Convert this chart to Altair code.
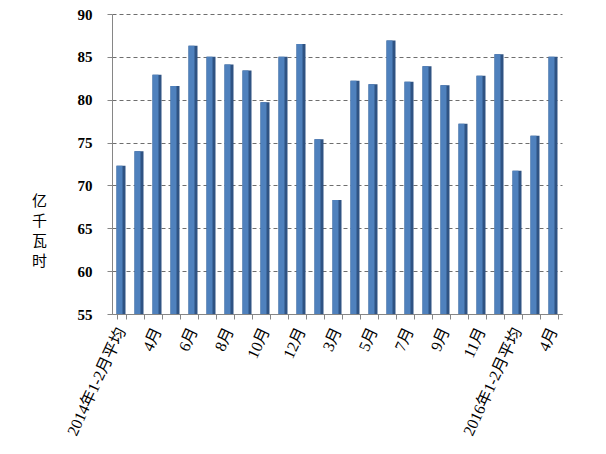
import json
import altair as alt
import pandas as pd

labels = ["2014年1-2月平均", "3月", "4月", "5月", "6月", "7月", "8月", "9月", "10月", "11月", "12月",
          "2015年1-2月平均", "3月", "4月", "5月", "6月", "7月", "8月", "9月", "10月", "11月", "12月",
          "2016年1-2月平均", "3月", "4月"]
values = [72.3, 74.0, 82.9, 81.6, 86.3, 85.0, 84.1, 83.4, 79.7, 85.0, 86.5,
          75.4, 68.3, 82.2, 81.8, 86.9, 82.1, 83.9, 81.7, 77.2, 82.8, 85.3,
          71.7, 75.8, 85.0]
y_ticks = [55, 60, 65, 70, 75, 80, 85, 90]

df = pd.DataFrame({"i": list(range(len(labels))), "label": labels, "v": values})

lab_arr = json.dumps(labels, ensure_ascii=False)
label_expr = f"datum.value % 2 == 0 ? {lab_arr}[datum.value] : ''"

FONT = "Liberation Serif, Noto Sans CJK SC"

x_enc = alt.X("i:O", scale=alt.Scale(paddingInner=0.5, paddingOuter=0.25),
              axis=alt.Axis(title=None, labelExpr=label_expr, labelAngle=-65,
                            labelAlign="right", labelBaseline="middle",
                            labelFont=FONT, labelFontSize=16, labelColor="#000000",
                            labelPadding=9, tickBand="extent", tickSize=5,
                            tickColor="#868686", domainColor="#868686",
                            labelOverlap=False, labelBound=False))
y_enc = alt.Y("v:Q", scale=alt.Scale(domain=[55, 90], zero=False, nice=False),
              axis=alt.Axis(values=y_ticks, title=["亿", "千", "瓦", "时"], titleAngle=0,
                            titleAlign="center", titleBaseline="top",
                            titleX=-73, titleY=179, titleFont=FONT, titleFontSize=15,
                            titleFontWeight="normal", titleLineHeight=20,
                            titleColor="#000000",
                            labelFont=FONT, labelFontSize=15, labelFontWeight="bold",
                            labelColor="#000000", labelPadding=15, tickSize=5,
                            tickColor="#868686", domainColor="#868686",
                            grid=True, gridColor="#6e6e6e", gridDash=[4, 3],
                            gridWidth=1))

side = alt.Chart(df).mark_bar(width=9, color="#2f5383").encode(
    x=x_enc, y=y_enc, y2=alt.datum(55))
front = alt.Chart(df).mark_bar(width=6, xOffset=-1.5, color="#4f81bd").encode(
    x=alt.X("i:O"), y=alt.Y("v:Q"), y2=alt.datum(55))

chart = alt.layer(side, front).properties(
    width=450, height=300,
    autosize=alt.AutoSizeParams(type="none"),
    padding={"left": 104, "top": 6, "right": 30, "bottom": 136},
    background="white",
).configure_view(stroke=None)

chart.save("out.html", embed_options={"renderer": "svg", "actions": False})
